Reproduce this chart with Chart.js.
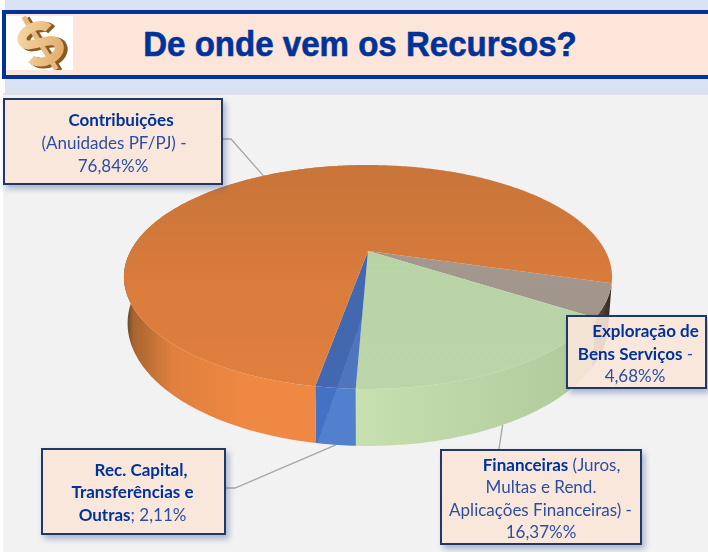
<!DOCTYPE html>
<html lang="pt">
<head>
<meta charset="utf-8">
<title>De onde vem os Recursos?</title>
<script src="https://cdn.jsdelivr.net/npm/chart.js@4"></script>
<style>
html,body{margin:0;padding:0;background:#fff;width:708px;height:552px;overflow:hidden}
#band{position:absolute;left:5px;top:0;width:703px;height:93px;background:#DAE1F2}
#main{position:absolute;left:3px;top:93px;width:705px;height:459px;background:#F2F2F2;border-top:2px solid #E0E0E0;box-sizing:border-box}
#titlebox{position:absolute;left:2px;top:10px;width:706px;height:69px;box-sizing:border-box;background:#FDE5D9;border:4px solid #003399;border-right:none}
#title{position:absolute;left:0;top:23px;width:720px;text-align:center;font:bold 34.5px "Liberation Sans",Arial,sans-serif;color:#003399;-webkit-text-stroke:.6px #003399;line-height:42px;transform:scaleX(.958);white-space:nowrap}
#icon{position:absolute;left:6px;top:16px}
canvas{position:absolute;left:0;top:0}
.box{position:absolute;box-sizing:border-box;border:2px solid #1F3864;background:rgba(251,229,217,.9);box-shadow:3px 4px 6px rgba(60,90,150,.4);font:17px/23px Lato,"Open Sans",sans-serif;color:#2B4FA0}
.box div{position:absolute;white-space:nowrap;transform:translateX(-50%)}
.box b{color:#003399;font-weight:700}
</style>
</head>
<body>
<div id="band"></div>
<div id="main"></div>
<div id="titlebox"></div>
<svg id="icon" width="67" height="54" viewBox="0 0 67 54">
  <rect x="0" y="0" width="67" height="54" fill="#fff"/>
  <defs><linearGradient id="gold" x1="0" y1="0" x2="1" y2="1"><stop offset="0" stop-color="#F6D5A2"/><stop offset="1" stop-color="#E2AE6E"/></linearGradient></defs>
  <g transform="rotate(-32 34 27)" fill="none" stroke-linecap="butt">
    <g stroke="#8A5A22">
      <path d="M49 19C46 7 21 6 20 17C19 28 50 25 49 38C48 50 22 49 18 36" stroke-width="10" transform="translate(2,3)"/>
      <path d="M34 -4V58" stroke-width="6" transform="translate(2,3)"/>
    </g>
    <path d="M34 -4V58" stroke="#E6B97F" stroke-width="5"/>
    <path d="M49 19C46 7 21 6 20 17C19 28 50 25 49 38C48 50 22 49 18 36" stroke="url(#gold)" stroke-width="9"/>
  </g>
</svg>
<div id="title">De onde vem os Recursos?</div>
<canvas id="chart" width="708" height="552"></canvas>
<div id="labels"></div>

<script>
// ---- data ----
const categories = ['Exploração de Bens Serviços', 'Financeiras', 'Rec. Capital, Transferências e Outras', 'Contribuições'];
const values = [4.68, 16.37, 2.11, 76.84];
const topColors = [
  ['#A89C92', '#9E9288'],
  ['#B7D2A3', '#BBD5A8'],
  ['#4468B0', '#4F75BE'],
  ['#C8743A', '#E17F3E']
];
const sideColors = [
  ['#6B5E52', '#2E281F'],
  ['#C7E0B0', '#AFC99B'],
  ['#4372C4', '#5380CE'],
  ['#4A3A28', '#EE8842']
];
const labelLines = [
  [['<b>Exploração de</b>', 77.5], ['<b>Bens Serviços</b> -', 67.5], ['4,68%%', 67]],
  [['<b>Financeiras</b> (Juros,', 109.5], ['Multas e Rend.', 99], ['Aplicações Financeiras) -', 98.5], ['16,37%%', 99]],
  [['<b>Rec. Capital,</b>', 98], ['<b>Transferências e</b>', 89.5], ['<b>Outras</b>; 2,11%', 89.5]],
  [['<b>Contribuições</b>', 116], ['(Anuidades PF/PJ) -', 109], ['76,84%%', 108]]
];
const labelBoxes = [
  {x:566, y:315, w:141, h:74, top:2, gap:22.7},
  {x:440, y:449, w:202, h:96, top:2, gap:22.3},
  {x:41, y:448, w:185, h:87, top:7.5, gap:22.8},
  {x:3, y:98, w:220, h:87, top:7.5, gap:23}
];
// label anchor (elbow) for each leader line; null = hidden behind its box
const leaderAnchors = [null, [[499,449]], [[226,488],[235,488]], [[223,139],[231,139]]];

// ---- projection of the pie disc ----
const cx = 368, apexY = 251, W = 237.4, A = 47.7, K = -0.232, D = 43.8;
function project(a, lower) {
  const u = Math.cos(a), v = Math.sin(a), den = 1 + K * v;
  return [cx + W * u / den * (lower ? 0.985 : 1), (A * v + apexY) / den + (lower ? D / den : 0)];
}
function samples(a0, a1) {
  const n = Math.max(2, Math.ceil((a1 - a0) / 0.015)), out = [];
  for (let i = 0; i <= n; i++) out.push(a0 + (a1 - a0) * i / n);
  return out;
}
function wallFill(ctx, i, x0, x1) {
  const c = sideColors[i];
  if (i === 2) {
    const g = ctx.createLinearGradient(317, 444, 317 + 94.2, 444 + 33.4);
    g.addColorStop(0, c[0]); g.addColorStop(0, c[1]); g.addColorStop(1, c[1]);
    return g;
  }
  const g = ctx.createLinearGradient(x0, 0, i === 3 ? x0 + 120 : x1, 0);
  g.addColorStop(0, c[0]);
  if (i === 3) { g.addColorStop(0.08, '#A8652F'); g.addColorStop(0.4, '#E07F3E'); }
  g.addColorStop(1, c[1]);
  return g;
}
const pie3d = {
  id: 'pie3d',
  beforeDatasetsDraw(chart) {
    const ctx = chart.ctx, arcs = chart.getDatasetMeta(0).data;
    ctx.save();
    // leader lines
    ctx.strokeStyle = '#A6A6A6'; ctx.lineWidth = 1.3;
    arcs.forEach((arc, i) => {
      const anchors = leaderAnchors[i];
      if (!anchors) return;
      const mid = (arc.startAngle + arc.endAngle) / 2;
      const end = project(mid, Math.sin(mid) > 0);
      ctx.beginPath();
      anchors.forEach((p, k) => k ? ctx.lineTo(p[0], p[1]) : ctx.moveTo(p[0], p[1]));
      ctx.lineTo(end[0], end[1]);
      ctx.stroke();
    });
    // outer walls: only the part facing the viewer
    arcs.forEach((arc, i) => {
      const as = samples(arc.startAngle, arc.endAngle).filter(a => i !== 3 || Math.cos(a) < 0);
      const up = as.map(a => project(a, false)), lo = as.map(a => project(a, true));
      const xs = up.concat(lo).map(p => p[0]);
      ctx.fillStyle = wallFill(ctx, i, Math.min(...xs), Math.max(...xs));
      ctx.beginPath();
      up.forEach((p, k) => k ? ctx.lineTo(p[0], p[1]) : ctx.moveTo(p[0], p[1]));
      lo.reverse().forEach(p => ctx.lineTo(p[0], p[1]));
      ctx.closePath();
      ctx.fill();
    });
    // top faces
    arcs.forEach((arc, i) => {
      let g;
      if (i === 2) {
        g = ctx.createLinearGradient(317, 444, 317 + 94.2, 444 + 33.4);
        g.addColorStop(0, topColors[i][0]); g.addColorStop(0, topColors[i][1]); g.addColorStop(1, topColors[i][1]);
      } else {
        g = ctx.createLinearGradient(0, 165, 0, 390);
        g.addColorStop(0, topColors[i][0]);
        if (i === 3) g.addColorStop(0.55, '#DA7C3C');
        g.addColorStop(1, topColors[i][1]);
      }
      ctx.fillStyle = g;
      ctx.beginPath();
      ctx.moveTo(cx, apexY);
      samples(arc.startAngle, arc.endAngle).forEach(a => { const p = project(a, false); ctx.lineTo(p[0], p[1]); });
      ctx.closePath();
      ctx.fill();
    });
    ctx.restore();
    return false;
  }
};

new Chart(document.getElementById('chart'), {
  type: 'pie',
  data: { labels: categories, datasets: [{ data: values, backgroundColor: topColors.map(c => c[1]), borderWidth: 0 }] },
  options: {
    responsive: false,
    animation: false,
    events: [],
    rotation: 106.5,
    plugins: { legend: { display: false }, tooltip: { enabled: false }, title: { display: false } }
  },
  plugins: [pie3d]
});

// ---- labels ----
const host = document.getElementById('labels');
labelBoxes.forEach((b, i) => {
  const el = document.createElement('div');
  el.className = 'box';
  el.style.cssText = `left:${b.x}px;top:${b.y}px;width:${b.w}px;height:${b.h}px`;
  labelLines[i].forEach((ln, k) => {
    const d = document.createElement('div');
    d.innerHTML = ln[0];
    d.style.left = ln[1] + 'px';
    d.style.top = (b.top + k * b.gap) + 'px';
    el.appendChild(d);
  });
  host.appendChild(el);
});
</script>
</body>
</html>
